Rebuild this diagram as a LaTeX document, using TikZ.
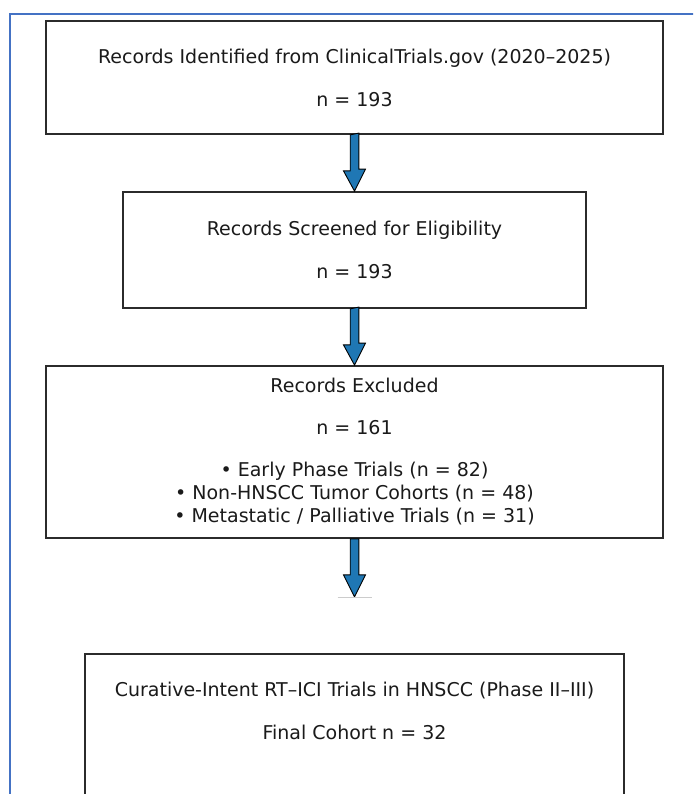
\documentclass[tikz,border=0pt]{standalone}
\usepackage{fontspec}
\setmainfont{DejaVu Sans}
\usetikzlibrary{calc}
\definecolor{frameblue}{HTML}{4472C4}
\definecolor{arrowblue}{HTML}{1F77B4}
\definecolor{boxline}{HTML}{2B2B2B}
\definecolor{txt}{HTML}{1A1A1A}
\tikzset{
  flowbox/.style={draw=boxline, line width=1.8pt, rectangle, inner sep=0pt, text=txt, align=center,
    font=\fontsize{19}{21.5}\selectfont},
  flowtext/.style={inner sep=0pt, text=txt, align=center, font=\fontsize{19}{21.5}\selectfont},
  blockarrow/.style={draw=black, line width=0.9pt, fill=arrowblue, line join=miter},
}
\begin{document}
\begin{tikzpicture}[x=1pt,y=-1pt]
\useasboundingbox (0,0) rectangle (693,794);
\clip (0,0) rectangle (693,794);
\fill[white] (0,0) rectangle (693,794);
% frame
\draw[frameblue, line width=1.2pt] (10,800) -- (10,14) -- (700,14);
% boxes
\node[flowbox, minimum width=617pt, minimum height=113pt] (b1) at (354.5,77.5)
  {Records Identified from ClinicalTrials.gov (2020–2025)\\[21.5pt] n = 193};
\node[flowbox, minimum width=463pt, minimum height=116pt] (b2) at (354.5,250)
  {Records Screened for Eligibility\\[21.5pt] n = 193};
\node[flowbox, minimum width=617pt, minimum height=172pt] (b3) at (354.5,452)
  {Records Excluded\\[20.5pt] n = 161\\[20.5pt] • Early Phase Trials (n = 82)\\[1.5pt] • Non-HNSCC Tumor Cohorts (n = 48)\\[1.5pt] • Metastatic / Palliative Trials (n = 31)};
\node[flowbox, minimum width=539pt, minimum height=200pt, anchor=north] (b4) at (354.5,653) {};
\node[flowtext] (b4t) at (354.5,711)
  {Curative-Intent RT–ICI Trials in HNSCC (Phase II–III)\\[21.5pt] Final Cohort n = 32};
% arrows
\coordinate (a1s) at (b1.south);
\coordinate (a2s) at (b2.south);
\coordinate (a3s) at (b3.south);
\coordinate (a3e) at ($(a3s)+(0,58)$);
\draw[blockarrow] (a1s) ++(-4.3,0) -- ++(0,36) -- ++(-6.7,0) -- (b2.north) -- ++(11,-22) -- ++(-6.7,0) -- ++(0,-36) -- cycle;
\draw[blockarrow] (a2s) ++(-4.3,0) -- ++(0,36) -- ++(-6.7,0) -- (b3.north) -- ++(11,-22) -- ++(-6.7,0) -- ++(0,-36) -- cycle;
\draw[blockarrow] (a3s) ++(-4.3,0) -- ++(0,36) -- ++(-6.7,0) -- (a3e) -- ++(11,-22) -- ++(-6.7,0) -- ++(0,-36) -- cycle;
\draw[black!20, line width=0.8pt] ($(a3e)+(-17,0)$) -- ($(a3e)+(17,0)$);
\end{tikzpicture}
\end{document}
